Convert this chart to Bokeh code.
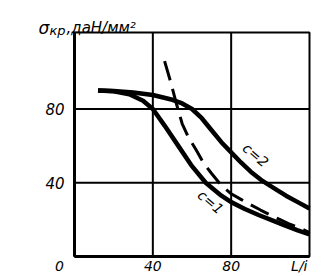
from bokeh.plotting import figure
from bokeh.models import Range1d, Label
from bokeh.embed import file_html
from bokeh.resources import INLINE

# ---- data ----
x_c1 = [12, 20, 28, 35, 40, 46, 53, 60, 67, 75, 80, 87, 94, 100, 107, 114, 120]
y_c1 = [90, 89.6, 88, 84.5, 80, 71, 60, 49, 40, 33, 29.5, 25.8, 22.5, 20, 17, 14.2, 12]

x_c2 = [12, 20, 30, 40, 50, 55, 60, 65, 70, 75, 80, 85, 90, 96, 102, 108, 114, 120]
y_c2 = [90, 89.8, 89, 87.6, 85, 83, 80, 75, 68.5, 62, 56.5, 51, 46, 41, 37, 33, 29.5, 26]

x_dash = [46, 49, 52, 55, 58, 62, 66, 70, 75, 80, 85, 90, 95, 100, 105, 110, 115, 120]
y_dash = [106, 95, 83, 72, 65, 58, 50.5, 45, 38.5, 34, 31, 28, 25.2, 22.5, 20, 17.5, 15.5, 13]

x_ticks = [0, 40, 80]
x_tick_labels = ["0", "40", "80"]
y_ticks = [40, 80]
y_tick_labels = ["40", "80"]
x_name = "L/i"
y_name_main = "σ"
y_name_sub = "кр"
y_name_unit = ",даН/мм²"
curve_labels = ["c=1", "c=2"]

# axis extents of the chart box
X_MIN, X_MAX = 0, 120
Y_MIN, Y_MAX = 0, 121.5

# layout (pixels)
W, H = 333, 276
BOX_L, BOX_R, BOX_T, BOX_B = 74, 309, 32, 256
sx = (BOX_R - BOX_L) / (X_MAX - X_MIN)
sy = (BOX_B - BOX_T) / (Y_MAX - Y_MIN)
xr = Range1d(X_MIN - BOX_L / sx, X_MAX + (W - BOX_R) / sx)
yr = Range1d(Y_MIN - (H - BOX_B) / sy, Y_MAX + BOX_T / sy)

FONT = "DejaVu Sans"

p = figure(width=W, height=H, output_backend="svg", toolbar_location=None,
           x_range=xr, y_range=yr, x_axis_type=None, y_axis_type=None,
           min_border=0)
p.background_fill_color = "white"
p.border_fill_color = "white"
p.outline_line_color = None
p.grid.visible = False

# grid lines at the ticks
gx = [t for t in x_ticks if t > X_MIN]
p.segment(x0=gx, y0=[Y_MIN] * len(gx), x1=gx, y1=[Y_MAX] * len(gx),
          line_color="black", line_width=2)
p.segment(x0=[X_MIN] * len(y_ticks), y0=y_ticks, x1=[X_MAX] * len(y_ticks), y1=y_ticks,
          line_color="black", line_width=2)
# box
p.quad(left=[X_MIN], right=[X_MAX], bottom=[Y_MIN], top=[Y_MAX], fill_color=None,
       line_color="black", line_width=2)
p.segment(x0=[X_MIN, X_MIN], y0=[Y_MIN, Y_MIN], x1=[X_MIN, X_MAX], y1=[Y_MAX, Y_MIN],
          line_color="black", line_width=3)

# curves
p.line(x_c1, y_c1, line_color="black", line_width=4.5)
p.line(x_c2, y_c2, line_color="black", line_width=4.5)
p.line(x_dash, y_dash, line_color="black", line_width=3, line_dash="20 9")

lab = dict(text_font=FONT, text_font_style="italic", text_font_size="15px", text_color="black")
xlab = dict(text_font=FONT, text_font_style="italic", text_font_size="14px", text_color="black")

for t, s in zip(x_ticks, x_tick_labels):
    off = -15 if t == X_MIN else 0
    p.add_layout(Label(x=t, y=-5.0, text=s, text_align="center", text_baseline="middle",
                       x_offset=off, **xlab))
p.add_layout(Label(x=X_MAX, y=-5.0, text=x_name, text_align="right", text_baseline="middle",
                   x_offset=-2, **xlab))
for t, s in zip(y_ticks, y_tick_labels):
    p.add_layout(Label(x=X_MIN, y=t, text=s, text_align="right", text_baseline="middle",
                       x_offset=-10, **lab))

# axis title  σкр, даН/мм²
p.add_layout(Label(x=X_MIN, y=124.2, text=y_name_main, text_align="left", text_baseline="alphabetic",
                   x_offset=-36, text_font=FONT, text_font_style="italic",
                   text_font_size="17px", text_color="black"))
p.add_layout(Label(x=X_MIN, y=122.6, text=y_name_sub, text_align="left", text_baseline="alphabetic",
                   x_offset=-25, text_font=FONT, text_font_style="italic",
                   text_font_size="13px", text_color="black"))
p.add_layout(Label(x=X_MIN, y=124.2, text=y_name_unit, text_align="left", text_baseline="alphabetic",
                   x_offset=-8, text_font=FONT, text_font_style="italic",
                   text_font_size="15px", text_color="black"))

# curve labels
p.add_layout(Label(x=69.5, y=29.5, text=curve_labels[0], angle=-0.7, text_align="center",
                   text_baseline="middle", text_font=FONT, text_font_style="italic",
                   text_font_size="14px", text_color="black"))
p.add_layout(Label(x=92.5, y=55, text=curve_labels[1], angle=-0.7, text_align="center",
                   text_baseline="middle", text_font=FONT, text_font_style="italic",
                   text_font_size="14px", text_color="black"))

open("out.html", "w").write(file_html(p, INLINE))
